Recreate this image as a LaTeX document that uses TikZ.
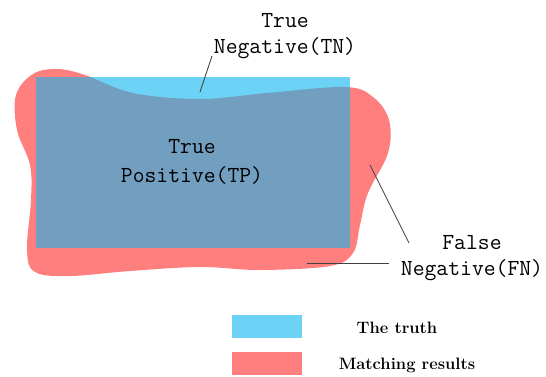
\documentclass[tikz,border=0pt]{standalone}
\usetikzlibrary{calc}
\tikzset{>=latex}
\definecolor{truthcyan}{RGB}{109,211,246}
\definecolor{matchred}{RGB}{255,127,127}
\definecolor{overlapblue}{RGB}{114,159,191}
\colorlet{pointergray}{black!75}
\tikzstyle{region label}=[font=\fontsize{23}{26}\selectfont\ttfamily,align=center,inner sep=0,anchor=base]
\tikzstyle{pointer}=[pointergray,line width=0.8]
\tikzstyle{legend box}=[fill=#1,draw=none,minimum width=70,minimum height=23,inner sep=0]
\tikzstyle{legend text}=[font=\fontsize{16.5}{18}\selectfont\bfseries,inner sep=0,anchor=base]

\begin{document}
\begin{tikzpicture}[x=1pt,y=-1pt]
  \useasboundingbox (0,0) rectangle (546,376);

  \def\blob{plot[smooth cycle,tension=0.6] coordinates {
    (57,69) (85,75) (133,93) (200,99) (267,93) (345,87) (373,97) (389,120)
    (388,153) (368,193) (360,225) (353,253) (330,266) (260,270) (200,267)
    (130,271) (70,276) (35,272) (27,250) (31,200) (30,165) (17,130)
    (16,95) (33,74)}}

  % REGIONS
  \fill[matchred] \blob;
  \fill[truthcyan] (36,77) rectangle (350,247);
  \begin{scope}
    \clip (36,77) rectangle (350,247);
    \fill[overlapblue] \blob;
  \end{scope}

  % LABELS (base = last line)
  \node[region label] (tn) at (285,53) {True\\Negative(TN)};
  \node[region label] (tp) at (192,182) {True\\[3pt]Positive(TP)};
  \node[region label] (fn) at (472,275) {False\\Negative(FN)};

  % POINTERS
  \coordinate (tnin) at (200,92);
  \coordinate (tnout) at (212,56);
  \coordinate (fnin) at (370,165);
  \coordinate (fnout) at (409,243);
  \coordinate (fnbot) at (307,263);
  \coordinate (fnbotout) at (389,263);
  \draw[pointer] (tnin) -- (tnout);
  \draw[pointer] (fnin) -- (fnout);
  \draw[pointer] (fnbot) -- (fnbotout);

  % LEGEND
  \node[legend box=truthcyan] (truthkey) at (267,326.5) {};
  \node[legend box=matchred] (matchkey) at (267,363) {};
  \node[legend text] (truthtxt) at (397,333) {The truth};
  \node[legend text] (matchtxt) at (407,369) {Matching results};
\end{tikzpicture}
\end{document}
